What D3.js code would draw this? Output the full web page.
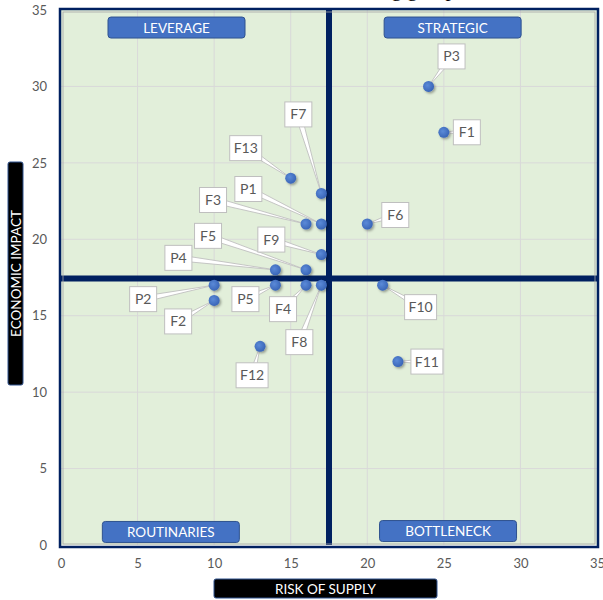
<!DOCTYPE html>
<html>
<head>
<meta charset="utf-8">
<script src="https://cdn.jsdelivr.net/npm/d3@7"></script>
<style>
  body { margin: 0; background: #fff; }
  svg { font-family: Lato, "Open Sans", sans-serif; }
</style>
</head>
<body>
<svg id="chart" width="603" height="600"></svg>
<script>
// DATA
const names = ["P3", "F1", "F7", "F13", "P1", "F3", "F6", "F9", "F5", "P4", "P2", "F2", "P5", "F4", "F8", "F10", "F12", "F11"];
const risk = [24, 25, 17, 15, 17, 16, 20, 17, 16, 14, 10, 10, 14, 16, 17, 21, 13, 22];
const impact = [30, 27, 23, 24, 21, 21, 21, 19, 18, 18, 17, 16, 17, 17, 17, 17, 13, 12];
const ticks = [0, 5, 10, 15, 20, 25, 30, 35];
const quadrants = ["LEVERAGE", "STRATEGIC", "ROUTINARIES", "BOTTLENECK"];
const split = 17.5;

// label placement, pixel offsets of label box center from its point
const labelOffset = {
  P3: [23, -30], F1: [23, 0], F7: [-23, -79], F13: [-45, -30], P1: [-73, -35],
  F3: [-93, -24], F6: [28, -9], F9: [-50, -15], F5: [-98, -34], P4: [-97, -12],
  P2: [-71, 14], F2: [-36, 21], P5: [-30, 14], F4: [-23, 24], F8: [-22, 57],
  F10: [38, 22], F12: [-8, 29], F11: [29, 0]
};

const data = names.map((n, i) => ({ name: n, x: risk[i], y: impact[i] }));

const svg = d3.select("#chart");
const x = d3.scaleLinear().domain([0, 35]).range([61, 597]);
const y = d3.scaleLinear().domain([0, 35]).range([545, 10]);

const defs = svg.append("defs");
const sh = defs.append("filter").attr("id", "shadow")
  .attr("x", "-50%").attr("y", "-50%").attr("width", "200%").attr("height", "200%");
sh.append("feDropShadow").attr("dx", 1.5).attr("dy", 1.5).attr("stdDeviation", 1.2)
  .attr("flood-color", "#000").attr("flood-opacity", 0.35);
const grad = defs.append("radialGradient").attr("id", "dot").attr("cx", "40%").attr("cy", "40%").attr("r", "60%");
grad.append("stop").attr("offset", "0%").attr("stop-color", "#5b8ad8");
grad.append("stop").attr("offset", "100%").attr("stop-color", "#3a66b8");

// title (cut off at top in the reference, only descenders show)
svg.append("text").attr("x", 456).attr("y", -4).attr("text-anchor", "end")
  .style("font-family", "'Liberation Serif', serif").style("font-size", "21px")
  .attr("fill", "#000").text("Purchasing group");

// plot background
svg.append("rect").attr("x", x(0)).attr("y", y(35))
  .attr("width", x(35) - x(0)).attr("height", y(0) - y(35))
  .attr("fill", "#e2efda");

// grid
const g = svg.append("g");
g.selectAll(".vg").data(ticks.slice(1, -1)).join("line")
  .attr("x1", d => x(d)).attr("x2", d => x(d)).attr("y1", y(35)).attr("y2", y(0))
  .attr("stroke", "#d9d9d9").attr("stroke-width", 1);
g.selectAll(".hg").data(ticks.slice(1, -1)).join("line")
  .attr("y1", d => y(d)).attr("y2", d => y(d)).attr("x1", x(0)).attr("x2", x(35))
  .attr("stroke", "#d9d9d9").attr("stroke-width", 1);

// quadrant dividers
svg.append("line").attr("x1", x(split)).attr("x2", x(split)).attr("y1", y(35)).attr("y2", y(0))
  .attr("stroke", "#002060").attr("stroke-width", 6);
svg.append("line").attr("x1", x(0)).attr("x2", x(35)).attr("y1", y(split) + 1).attr("y2", y(split) + 1)
  .attr("stroke", "#002060").attr("stroke-width", 6);

// frame
svg.append("rect").attr("x", x(0) - 1).attr("y", y(35) - 1)
  .attr("width", x(35) - x(0) + 2).attr("height", y(0) - y(35) + 3)
  .attr("fill", "none").attr("stroke", "#002060").attr("stroke-width", 2.5);
svg.append("rect").attr("x", x(0) + 2).attr("y", y(35) + 2)
  .attr("width", x(35) - x(0) - 4).attr("height", y(0) - y(35) - 3)
  .attr("fill", "none").attr("stroke", "#a6a6a6").attr("stroke-width", 0.8);

// axes
const xAxis = d3.axisBottom(x).tickValues(ticks).tickSize(0).tickPadding(14);
svg.append("g").attr("transform", `translate(0,${y(0)})`).call(xAxis)
  .call(s => s.select(".domain").remove())
  .selectAll("text").attr("fill", "#595959").style("font-size", "13px").style("font-family", "Lato, sans-serif");
const yAxis = d3.axisLeft(y).tickValues(ticks).tickSize(0).tickPadding(14);
svg.append("g").attr("transform", `translate(${x(0)},0)`).call(yAxis)
  .call(s => s.select(".domain").remove())
  .selectAll("text").attr("fill", "#595959").style("font-size", "13px").style("font-family", "Lato, sans-serif");

// quadrant labels
const qPos = [
  { x0: 3.07, y0: 34.54 }, { x0: 21.1, y0: 34.54 },
  { x0: 2.7, y0: 1.54 }, { x0: 20.8, y0: 1.6 }
];
const qg = svg.selectAll(".quad").data(quadrants).join("g")
  .attr("transform", (d, i) => `translate(${x(qPos[i].x0)},${y(qPos[i].y0)})`);
qg.append("rect").attr("width", 137).attr("height", 21).attr("rx", 3)
  .attr("fill", "#4472c4").attr("stroke", "#2f528f").attr("stroke-width", 1);
qg.append("text").attr("x", 68.5).attr("y", 15.5).attr("text-anchor", "middle")
  .attr("fill", "#fff").style("font-size", "13.5px").text(d => d);

// axis titles
svg.append("rect").attr("x", 214).attr("y", 579).attr("width", 223).attr("height", 19).attr("rx", 2)
  .attr("fill", "#000").attr("stroke", "#2f528f");
svg.append("text").attr("x", 325.5).attr("y", 594).attr("text-anchor", "middle")
  .attr("fill", "#fff").style("font-size", "13.5px").text("RISK OF SUPPLY");
svg.append("rect").attr("x", 8).attr("y", 162).attr("width", 15).attr("height", 223).attr("rx", 2)
  .attr("fill", "#000").attr("stroke", "#2f528f");
svg.append("text").attr("transform", "translate(20.5,273.5) rotate(-90)").attr("text-anchor", "middle")
  .attr("fill", "#fff").style("font-size", "13.5px").text("ECONOMIC IMPACT");

// leader wedges
const labels = svg.append("g");
data.forEach(d => {
  const [dx, dy] = labelOffset[d.name];
  const px = x(d.x), py = y(d.y);
  const cx = px + dx, cy = py + dy;
  const len = Math.hypot(dx, dy);
  const nx = -dy / len * 3, ny = dx / len * 3;
  labels.append("path")
    .attr("d", `M${cx + nx},${cy + ny}L${px},${py}L${cx - nx},${cy - ny}Z`)
    .attr("fill", "#fff").attr("stroke", "#bfbfbf").attr("stroke-width", 0.9);
});

// points
svg.selectAll(".pt").data(data).join("circle")
  .attr("cx", d => x(d.x)).attr("cy", d => y(d.y)).attr("r", 5.5)
  .attr("fill", "url(#dot)").attr("filter", "url(#shadow)");

// label boxes
const lb = svg.selectAll(".lbl").data(data).join("g")
  .attr("transform", d => `translate(${x(d.x) + labelOffset[d.name][0]},${y(d.y) + labelOffset[d.name][1]})`);
lb.append("rect")
  .attr("x", d => d.name.length > 2 ? -16 : -13.5).attr("y", -12.5)
  .attr("width", d => d.name.length > 2 ? 32 : 27).attr("height", 25)
  .attr("fill", "#fff").attr("stroke", "#bfbfbf").attr("stroke-width", 1);
lb.append("text").attr("text-anchor", "middle").attr("y", 5)
  .attr("fill", "#595959").style("font-size", "14px").text(d => d.name);
</script>
</body>
</html>
